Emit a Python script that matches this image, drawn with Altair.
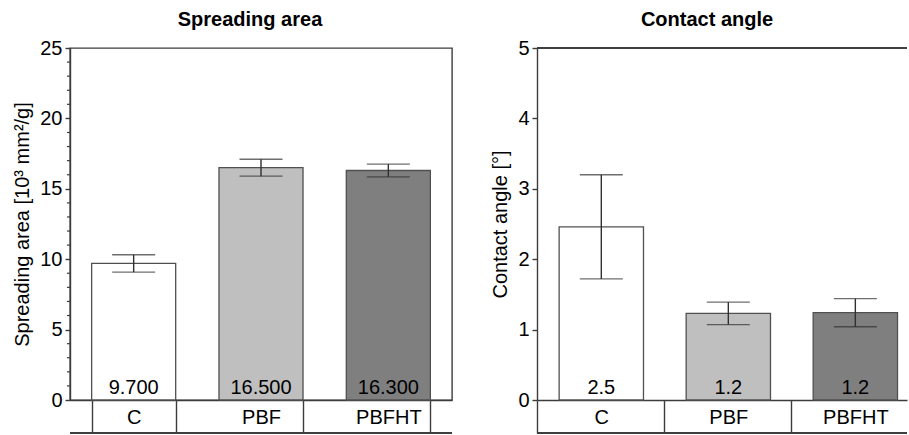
import altair as alt
import pandas as pd

FONT = "Liberation Sans"

categories = ["C", "PBF", "PBFHT"]
fills = ["#ffffff", "#bfbfbf", "#7f7f7f"]

spread_values = [9.7, 16.5, 16.3]
spread_err = [0.62, 0.6, 0.45]
spread_ticks = [0, 5, 10, 15, 20, 25]
spread_minor = [1, 2, 3, 4, 6, 7, 8, 9, 11, 12, 13, 14, 16, 17, 18, 19, 21, 22, 23, 24]

angle_values = [2.46, 1.23, 1.24]
angle_err = [0.74, 0.16, 0.2]
angle_ticks = [0, 1, 2, 3, 4, 5]

AX = "#3c3c3c"
H = 352
BOX = 33


def make_df(vals, errs, fmt):
    return pd.DataFrame({
        "cat": categories,
        "val": vals,
        "lo": [v - e for v, e in zip(vals, errs)],
        "hi": [v + e for v, e in zip(vals, errs)],
        "lab": [format(v, fmt) for v in vals],
        "zero": [0] * len(vals),
    })


def panel(vals, errs, fmt, ymax, ticks, ytitle, title, width, xscale, xaxis, title_dx, minor=None, frame=True):
    df = make_df(vals, errs, fmt)
    x = alt.X("cat:N", sort=categories, scale=xscale, axis=xaxis, title=None)
    yscale = alt.Scale(domain=[0, ymax], nice=False, zero=True)
    yaxis = alt.Axis(values=ticks, format="d", tickSize=5, tickWidth=1.4, tickColor=AX,
                     domainColor=AX, domainWidth=1.4, grid=False,
                     labelFontSize=20, labelFont=FONT, labelColor="#000",
                     labelPadding=3, titleFontSize=20, titleFont=FONT,
                     titleFontWeight="normal", titleColor="#000", titlePadding=7)
    base = alt.Chart(df)
    bars = base.mark_bar(stroke="#505050", strokeWidth=1.3).encode(
        x=x,
        y=alt.Y("val:Q", scale=yscale, axis=yaxis, title=ytitle),
        fill=alt.Fill("cat:N", sort=categories,
                      scale=alt.Scale(domain=categories, range=fills), legend=None),
    )
    err = base.mark_rule(color="#303030", strokeWidth=1.4).encode(
        x=x, y="lo:Q", y2="hi:Q")
    cap_hi = base.mark_tick(color="#303030", thickness=1.4, size=43, orient="horizontal").encode(
        x=x, y="hi:Q")
    cap_lo = base.mark_tick(color="#303030", thickness=1.4, size=43, orient="horizontal").encode(
        x=x, y="lo:Q")
    txt = base.mark_text(baseline="bottom", dy=-2, fontSize=20, font=FONT, color="#000").encode(
        x=x, y="zero:Q", text="lab:N")
    bottom = base.mark_rule(color=AX, strokeWidth=1.4).encode(
        x=alt.value(0), x2=alt.value(width), y=alt.value(H + BOX))
    layers = [bars, err, cap_hi, cap_lo, txt, bottom]
    if minor is not None:
        mdf = pd.DataFrame({"m": minor})
        layers.append(alt.Chart(mdf).mark_rule(color=AX, strokeWidth=1.2).encode(
            y="m:Q", x=alt.value(-3), x2=alt.value(0)))
    if not frame:
        layers.append(base.mark_rule(color=AX, strokeWidth=1.4).encode(
            x=alt.value(0), x2=alt.value(width), y=alt.value(0)))
    ch = alt.layer(*layers).properties(
        width=width, height=H,
        title=alt.TitleParams(title, fontSize=20, font=FONT, fontWeight="bold",
                              color="#000", dx=title_dx, offset=8),
        view=alt.ViewBackground(stroke=AX if frame else "transparent", strokeWidth=1.4),
    )
    return ch


left_xaxis = alt.Axis(tickBand="extent", tickSize=BOX, tickColor=AX, tickWidth=1.4,
                      domainColor=AX, domainWidth=1.4, labelAngle=0, labelFontSize=20,
                      labelFont=FONT, labelColor="#000", labelPadding=-26)
left = panel(spread_values, spread_err, ".3f", 25, spread_ticks,
             "Spreading area [10³ mm²/g]", "Spreading area", 382,
             alt.Scale(paddingInner=0.34, paddingOuter=0.17), left_xaxis, -11,
             minor=spread_minor, frame=True)

right_xaxis = alt.Axis(bandPosition=0, tickOffset=-22, labelOffset=22,
                       tickSize=BOX, tickColor=AX, tickWidth=1.4,
                       domainColor=AX, domainWidth=1.4, labelAngle=0, labelFontSize=20,
                       labelFont=FONT, labelColor="#000", labelPadding=-26)
right = panel(angle_values, angle_err, ".1f", 5, angle_ticks,
              "Contact angle [°]", "Contact angle", 370,
              alt.Scale(paddingInner=0.336, paddingOuter=0.1245, align=0.7), right_xaxis, -15,
              minor=None, frame=False)

chart = alt.hconcat(left, right, spacing=36).properties(
    padding={"left": 12, "top": 9, "right": 0, "bottom": 0}
).configure(background="#ffffff")

chart.save("out.html", embed_options={"renderer": "svg", "actions": False})
